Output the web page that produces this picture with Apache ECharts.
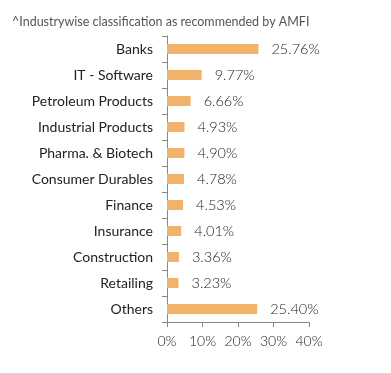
<!DOCTYPE html>
<html><head><meta charset="utf-8">
<script src="https://cdn.jsdelivr.net/npm/echarts@6/dist/echarts.min.js"></script>
<style>html,body{margin:0;padding:0;background:#fff}#c{width:391px;height:373px}</style>
</head><body><div id="c"></div>
<script>
const titleText = '^Industrywise classification as recommended by AMFI';
const categories = ['Banks','IT - Software','Petroleum Products','Industrial Products','Pharma. & Biotech','Consumer Durables','Finance','Insurance','Construction','Retailing','Others'];
const values = [25.76,9.77,6.66,4.93,4.90,4.78,4.53,4.01,3.36,3.23,25.40];
const xTicks = [0,10,20,30,40];

const chart = echarts.init(document.getElementById('c'));
chart.setOption({
  animation:false,
  textStyle:{fontFamily:'Lato'},
  title:{text:titleText,left:7,top:10,textStyle:{fontSize:12.5,fontWeight:'normal',color:'#555',fontFamily:'Lato'}},
  grid:{left:167,right:82,top:36,bottom:51,containLabel:false},
  xAxis:{type:'value',min:xTicks[0],max:xTicks[xTicks.length-1],interval:10,
    axisLine:{show:true,lineStyle:{color:'#888'}},
    axisTick:{show:true,length:5,lineStyle:{color:'#888'}},
    splitLine:{show:false},
    axisLabel:{formatter:v=>v+'%',fontSize:14,color:'#222',margin:12,fontFamily:'Lato',fontWeight:300}},
  yAxis:{type:'category',data:categories,inverse:true,
    axisLine:{show:true,lineStyle:{color:'#888'}},
    axisTick:{show:true,length:5,lineStyle:{color:'#888'}},
    axisLabel:{fontSize:14,color:'#222',margin:14,fontFamily:'Lato'}},
  series:[{type:'bar',data:values,barWidth:10,itemStyle:{color:'#f1b26b'},
    label:{show:true,position:'right',distance:13,formatter:p=>p.value.toFixed(2)+'%',fontSize:14.5,color:'#222',fontFamily:'Lato',fontWeight:300}}]
});
</script></body></html>
